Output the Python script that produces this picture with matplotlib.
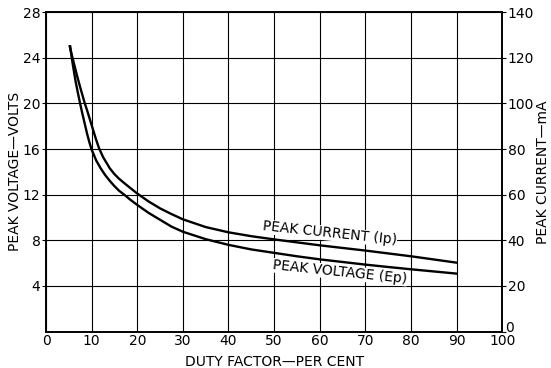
import matplotlib
matplotlib.use("Agg")
import matplotlib.pyplot as plt
from matplotlib.transforms import ScaledTranslation

# Duty factor (%) and peak voltage (V)
duty_ep = [5.3, 5.6, 6.0, 6.5, 7.0, 7.5, 8.0, 8.5, 9.0, 9.5, 10.0, 11.0, 12.0, 13.0, 14.0, 15.0, 16.0, 17.3, 18.5, 20.0,
           22.5, 25.0, 27.5, 30.0, 35.0, 40.0, 45.0, 50.0, 55.0, 60.0, 65.0, 70.0, 75.0, 80.0, 85.0, 90.0]
volts_ep = [25.0, 24.1, 23.1, 21.9, 20.9, 19.95, 19.05, 18.2, 17.35, 16.6, 15.95, 15.0, 14.3, 13.7, 13.2, 12.75, 12.35, 11.95, 11.55, 11.1,
            10.4, 9.8, 9.2, 8.75, 8.1, 7.6, 7.2, 6.9, 6.6, 6.33, 6.1, 5.87, 5.66, 5.46, 5.27, 5.08]

# Duty factor (%) and peak current (mA)
duty_ip = [5.2, 5.5, 6.0, 6.5, 7.0, 7.5, 8.0, 8.5, 9.0, 10.0, 11.0, 11.6, 12.5, 14.0, 15.0, 16.0, 17.5, 20.0,
           22.5, 25.0, 27.5, 30.0, 35.0, 40.0, 45.0, 50.0, 60.0, 70.0, 80.0, 90.0]
ma_ip = [125.0, 122.5, 118.5, 114.5, 110.7, 107.0, 103.5, 100.0, 97.0, 90.5, 84.0, 80.5, 76.5, 71.5, 69.0, 67.0, 64.5, 60.5,
         57.0, 54.0, 51.5, 49.2, 45.8, 43.5, 41.8, 40.4, 37.8, 35.5, 33.0, 30.2]

x_ticks = [0, 10, 20, 30, 40, 50, 60, 70, 80, 90, 100]
v_ticks = [4, 8, 12, 16, 20, 24, 28]
i_ticks = [0, 20, 40, 60, 80, 100, 120, 140]

plt.rcParams['font.family'] = ['DejaVu Sans']

fig = plt.figure(figsize=(5.51, 3.68), dpi=100)
ax = fig.add_axes([0.0835, 0.099, 0.828, 0.868])
ax.set_xlim(0, 100)
ax.set_ylim(0, 28)
ax.set_xticks(x_ticks)
ax.set_yticks(v_ticks)
ax.grid(True, color='black', linewidth=0.8)
ax.set_axisbelow(True)
for s in ax.spines.values():
    s.set_linewidth(1.2)
ax.tick_params(axis='x', length=0, labelsize=10, pad=1.5)
ax.tick_params(axis='y', length=3, width=0.8, labelsize=10, pad=1)
ax.set_xlabel('DUTY FACTOR\u2014PER CENT', fontsize=10)
ax.xaxis.set_label_coords(0.5, -0.074)
ax.set_ylabel('PEAK VOLTAGE\u2014VOLTS', fontsize=10)
ax.yaxis.set_label_coords(-0.053, 0.5)

ax.plot(duty_ep, volts_ep, color='black', linewidth=1.7, zorder=4)

ax2 = ax.twinx()
ax2.set_ylim(0, 140)
ax2.set_yticks(i_ticks)
ax2.tick_params(axis='y', length=3, width=0.8, labelsize=10, pad=1)
ax2.set_ylabel('PEAK CURRENT\u2014mA', fontsize=10)
ax2.yaxis.set_label_coords(1.074, 0.5)
ax2.plot(duty_ip, ma_ip, color='black', linewidth=1.7, zorder=4)
for s in ax2.spines.values():
    s.set_linewidth(1.2)

# lift the right-hand "0" above the "100" as in the reference
zero_lbl = ax2.get_yticklabels()[0]
zero_lbl.set_transform(zero_lbl.get_transform() + ScaledTranslation(-2 / 72, 4 / 72, fig.dpi_scale_trans))

ax.text(62.1, 8.25, 'PEAK CURRENT (Ip)', fontsize=10, rotation=-6,
        rotation_mode='anchor', ha='center', va='baseline',
        bbox=dict(facecolor='white', edgecolor='none', pad=0.2), zorder=3)
ax.text(64.3, 4.85, 'PEAK VOLTAGE (Ep)', fontsize=10, rotation=-6,
        rotation_mode='anchor', ha='center', va='baseline',
        bbox=dict(facecolor='white', edgecolor='none', pad=0.2), zorder=3)

fig.savefig('out.png', dpi=100)
